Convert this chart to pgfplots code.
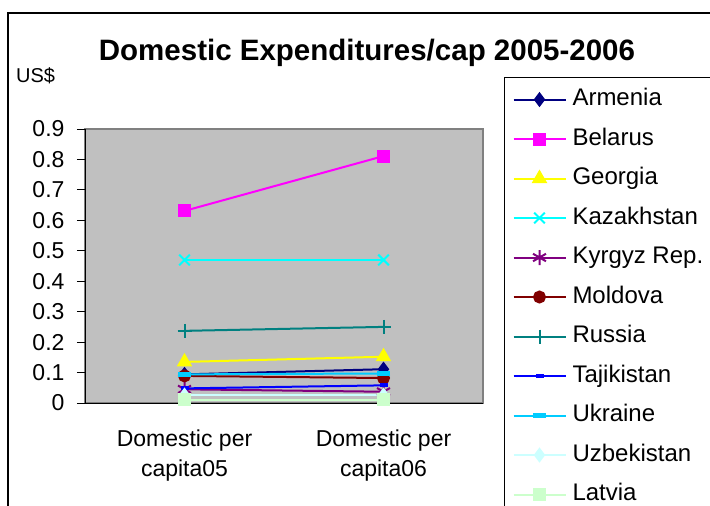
\documentclass[border=0pt]{standalone}
\usepackage{fontspec}
\setmainfont{Liberation Sans}
\usepackage{pgfplots}
\pgfplotsset{compat=1.18}
\definecolor{cArm}{RGB}{0,0,128}
\definecolor{cBel}{RGB}{255,0,255}
\definecolor{cGeo}{RGB}{255,255,0}
\definecolor{cKaz}{RGB}{0,255,255}
\definecolor{cKyr}{RGB}{128,0,128}
\definecolor{cMol}{RGB}{128,0,0}
\definecolor{cRus}{RGB}{0,128,128}
\definecolor{cTaj}{RGB}{0,0,255}
\definecolor{cUkr}{RGB}{0,204,255}
\definecolor{cUzb}{RGB}{204,255,255}
\definecolor{cLat}{RGB}{204,255,204}
\definecolor{plotbg}{RGB}{192,192,192}
\definecolor{plotbd}{RGB}{128,128,128}
\begin{document}
\begin{tikzpicture}
\path[use as bounding box] (0pt,0pt) rectangle (710pt,-506pt);
\draw[black, line width=1.2pt] (800pt,-13pt) -- (8pt,-13pt) -- (8pt,-600pt);
\node[font=\fontsize{29.5}{34}\selectfont\bfseries, anchor=base] at (367pt,-60pt) {Domestic Expenditures/cap 2005-2006};
\node[font=\fontsize{20}{24}\selectfont, anchor=base west, inner sep=0pt] at (16pt,-82pt) {US\$};
\begin{axis}[
  at={(85pt,-403pt)}, anchor=south west,
  scale only axis, width=398pt, height=274pt,
  xmin=-0.5, xmax=1.5, ymin=0, ymax=0.9,
  axis lines*=left,
  axis line style={black, line width=1pt},
  axis background/.style={fill=plotbg, draw=plotbd, line width=1.6pt},
  tick align=outside, major tick length=8pt,
  tick style={black, line width=1pt},
  xtick={0,1},
  xticklabels={{Domestic per\\capita05},{Domestic per\\capita06}},
  major x tick style={draw=none},
  extra x ticks={-0.5,0.5,1.5},
  extra x tick labels={},
  extra x tick style={major x tick style={black, line width=1pt}},
  xticklabel style={align=center, font=\fontsize{23}{30}\selectfont, yshift=-15pt},
  ytick={0,0.1,0.2,0.3,0.4,0.5,0.6,0.7,0.8,0.9},
  yticklabel style={font=\fontsize{23}{27}\selectfont, /pgf/number format/fixed, /pgf/number format/precision=1, xshift=-9pt},
  /pgf/number format/assume math mode=true,
  clip=false,
  legend image code/.code={\draw[mark repeat=2,mark phase=2,#1] plot coordinates {(0pt,0pt) (26pt,0pt) (52pt,0pt)};},
  legend cell align=left,
  legend style={at={(1.05276,1.18978)}, anchor=north west, draw=black, line width=1pt, fill=white,
    font=\fontsize{24}{28}\selectfont, inner xsep=8pt, inner ysep=11pt, row sep=17.5pt,
    nodes={inner sep=0pt, text height=17pt, text depth=5pt},
    /tikz/every odd column/.append style={column sep=6pt}},
  every axis plot/.append style={line width=2pt, mark options={solid}},
]
\addplot[color=cArm, mark=diamond*, mark size=6pt] coordinates {(0,0.094) (1,0.111)};
\addlegendentry{Armenia}
\addplot[color=cBel, mark=square*, mark size=5.5pt] coordinates {(0,0.631) (1,0.811)};
\addlegendentry{Belarus}
\addplot[color=cGeo, mark=triangle*, mark size=7pt] coordinates {(0,0.135) (1,0.152)};
\addlegendentry{Georgia}
\addplot[color=cKaz, mark=x, mark size=7.5pt] coordinates {(0,0.470) (1,0.470)};
\addlegendentry{Kazakhstan}
\addplot[color=cKyr, mark=asterisk, mark size=7.5pt] coordinates {(0,0.045) (1,0.037)};
\addlegendentry{Kyrgyz Rep.}
\addplot[color=cMol, mark=*, mark size=5.5pt] coordinates {(0,0.089) (1,0.082)};
\addlegendentry{Moldova}
\addplot[color=cRus, mark=+, mark size=7pt] coordinates {(0,0.237) (1,0.250)};
\addlegendentry{Russia}
\addplot[color=cTaj, mark=-, mark size=4pt, mark options={line width=4pt}] coordinates {(0,0.048) (1,0.058)};
\addlegendentry{Tajikistan}
\addplot[color=cUkr, mark=-, mark size=6.5pt, mark options={line width=4.5pt}] coordinates {(0,0.094) (1,0.097)};
\addlegendentry{Ukraine}
\addplot[color=cUzb, mark=diamond*, mark size=6pt] coordinates {(0,0.026) (1,0.026)};
\addlegendentry{Uzbekistan}
\addplot[color=cLat, mark=square*, mark size=5.5pt] coordinates {(0,0.010) (1,0.010)};
\addlegendentry{Latvia}
\end{axis}
\end{tikzpicture}
\end{document}
